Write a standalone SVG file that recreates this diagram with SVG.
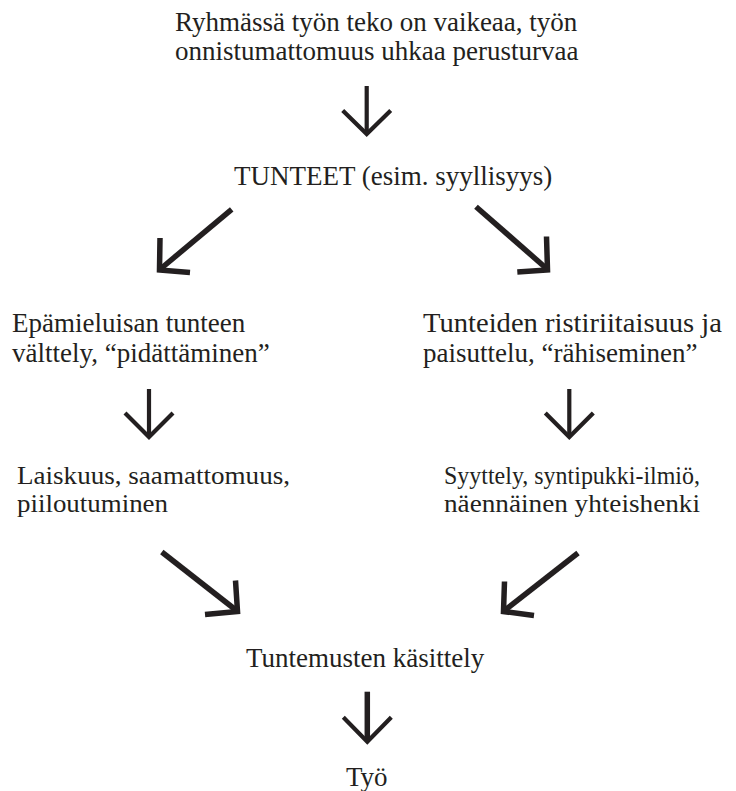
<svg xmlns="http://www.w3.org/2000/svg" width="736" height="791" viewBox="0 0 736 791">
  <style>
    .t { font-family: "Liberation Serif", "Times New Roman", serif; font-size: 27px; fill: #231f20; }
    .s { font-size: 25px; }
    .a { fill: none; stroke: #231f20; stroke-linecap: butt; stroke-linejoin: miter; stroke-miterlimit: 10; }
    .v { stroke-width: 4.2; }
    .d { stroke-width: 5.5; }
  </style>
  <rect width="736" height="791" fill="#ffffff"/>

  <g id="node-start">
    <text class="t" x="175" y="31">Ryhmässä työn teko on vaikeaa, työn</text>
    <text class="t" x="175" y="60">onnistumattomuus uhkaa perusturvaa</text>
  </g>
  <g id="node-tunteet">
    <text class="t" x="234" y="185">TUNTEET (esim. syyllisyys)</text>
  </g>
  <g id="node-valttely">
    <text class="t" x="12" y="332">Epämieluisan tunteen</text>
    <text class="t" x="12" y="362">välttely, “pidättäminen”</text>
  </g>
  <g id="node-ristiriita">
    <text class="t" x="423" y="332" textLength="299" lengthAdjust="spacingAndGlyphs">Tunteiden ristiriitaisuus ja</text>
    <text class="t" x="423" y="362">paisuttelu, “rähiseminen”</text>
  </g>
  <g id="node-laiskuus">
    <text class="t s" x="17" y="484" textLength="273" lengthAdjust="spacingAndGlyphs">Laiskuus, saamattomuus,</text>
    <text class="t s" x="17" y="512" textLength="151" lengthAdjust="spacingAndGlyphs">piiloutuminen</text>
  </g>
  <g id="node-syyttely">
    <text class="t s" x="444" y="484" textLength="256" lengthAdjust="spacingAndGlyphs">Syyttely, syntipukki-ilmiö,</text>
    <text class="t s" x="444" y="512" textLength="256" lengthAdjust="spacingAndGlyphs">näennäinen yhteishenki</text>
  </g>
  <g id="node-kasittely">
    <text class="t" x="246" y="667">Tuntemusten käsittely</text>
  </g>
  <g id="node-tyo">
    <text class="t" x="346" y="786">Työ</text>
  </g>

  <g id="connectors">
    <line class="a v" x1="366.7" y1="86" x2="366.7" y2="133"/>
    <polyline class="a v" points="342.7,110.5 366.7,134 390.7,110.5"/>

    <line class="a d" x1="231.7" y1="209.3" x2="161" y2="268.5"/>
    <polyline class="a d" points="160,238 159.5,270 190,272.5"/>

    <line class="a d" x1="476" y1="206.7" x2="546.5" y2="268.5"/>
    <polyline class="a d" points="546.5,236.5 547.5,270 517.3,272"/>

    <line class="a v" x1="149" y1="389" x2="149" y2="436"/>
    <polyline class="a v" points="125,413 149,437 173,413"/>

    <line class="a v" x1="569.3" y1="389" x2="569.3" y2="436"/>
    <polyline class="a v" points="545.3,413 569.3,437 593.3,413"/>

    <line class="a d" x1="161.8" y1="552" x2="236.5" y2="610.5"/>
    <polyline class="a d" points="235.5,580.5 237.5,611.5 205,614.5"/>

    <line class="a d" x1="578" y1="553" x2="504.5" y2="610.5"/>
    <polyline class="a d" points="504.5,581.5 503.5,611.5 534,615.5"/>

    <line class="a d" x1="367.3" y1="691.7" x2="367.3" y2="740"/>
    <polyline class="a v" points="343.3,717.3 367.3,741.7 391.3,717.3"/>
  </g>
</svg>
